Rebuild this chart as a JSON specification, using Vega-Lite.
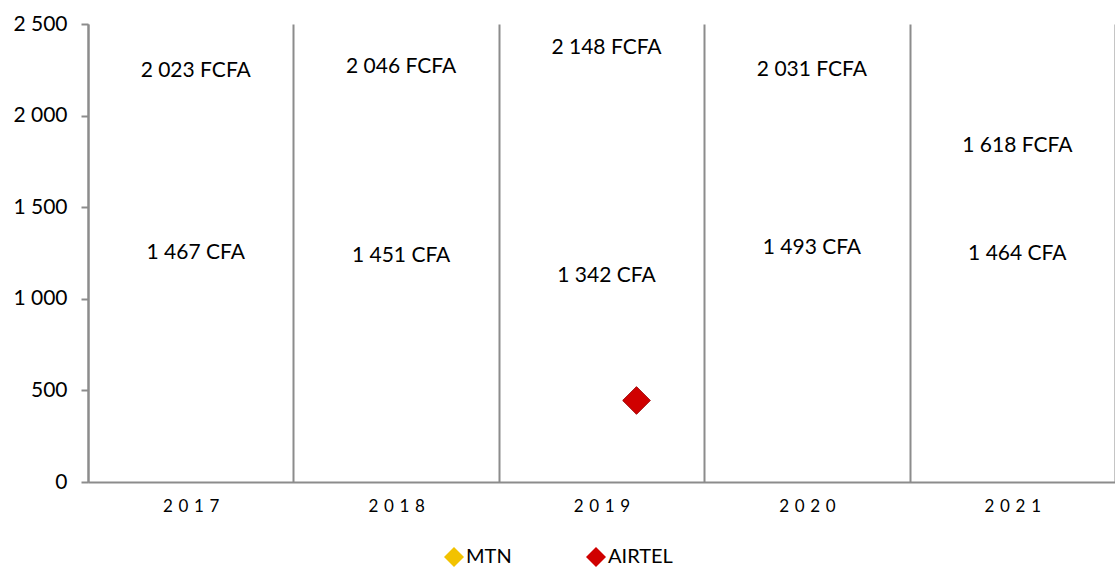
{
  "$schema": "https://vega.github.io/schema/vega-lite/v6.json",
  "autosize": "none",
  "width": 1027,
  "height": 458,
  "padding": {"left": 88, "top": 24, "right": 0, "bottom": 85},
  "background": "white",
  "config": {
    "font": "Lato",
    "view": {"stroke": null},
    "axis": {"labelFont": "Lato", "labelColor": "#000000", "domainColor": "#8c8c8c", "tickColor": "#8c8c8c", "gridColor": "#8c8c8c", "domainWidth": 2, "gridWidth": 2, "tickWidth": 2}
  },
  "datasets": {
    "labels": [
      {"year": "2017", "series": "MTN", "value": 2023, "label": "2 023 FCFA"},
      {"year": "2018", "series": "MTN", "value": 2046, "label": "2 046 FCFA"},
      {"year": "2019", "series": "MTN", "value": 2148, "label": "2 148 FCFA"},
      {"year": "2020", "series": "MTN", "value": 2031, "label": "2 031 FCFA"},
      {"year": "2021", "series": "MTN", "value": 1618, "label": "1 618 FCFA"},
      {"year": "2017", "series": "AIRTEL", "value": 1467, "label": "1 467 CFA"},
      {"year": "2018", "series": "AIRTEL", "value": 1451, "label": "1 451 CFA"},
      {"year": "2019", "series": "AIRTEL", "value": 1342, "label": "1 342 CFA"},
      {"year": "2020", "series": "AIRTEL", "value": 1493, "label": "1 493 CFA"},
      {"year": "2021", "series": "AIRTEL", "value": 1464, "label": "1 464 CFA"}
    ],
    "marker": [
      {"year": "2019", "series": "AIRTEL", "value": 445}
    ]
  },
  "layer": [
    {
      "data": {"name": "marker"},
      "mark": {"type": "point", "shape": "diamond", "filled": true, "opacity": 1, "size": 760, "xOffset": 35, "stroke": "#a00000", "strokeWidth": 1},
      "encoding": {
        "x": {"field": "year", "type": "ordinal", "scale": {"type": "band", "domain": ["2017", "2018", "2019", "2020", "2021"], "paddingInner": 0, "paddingOuter": 0},
          "axis": {"title": null, "ticks": false, "grid": true, "tickBand": "extent", "labelFontSize": 17, "labelPadding": 16, "labelAngle": 0, "labelExpr": "join(split(datum.label, ''), '\u2004')"}},
        "y": {"field": "value", "type": "quantitative", "scale": {"domain": [0, 2500], "nice": false},
          "axis": {"title": null, "values": [0, 500, 1000, 1500, 2000, 2500], "grid": false, "tickSize": 7, "labelFontSize": 21, "labelPadding": 14, "labelExpr": "replace(format(datum.value, ','), ',', ' ')"}},
        "fill": {"field": "series", "type": "nominal", "scale": {"domain": ["MTN", "AIRTEL"], "range": ["#f2c200", "#d00000"]},
          "legend": {"title": null, "orient": "none", "legendX": 356, "legendY": 523, "direction": "horizontal", "symbolType": "diamond", "symbolSize": 400, "symbolStrokeWidth": 0, "labelFontSize": 20, "labelFont": "Lato", "labelColor": "#000000", "columnPadding": 74, "labelOffset": 2}}
      }
    },
    {
      "data": {"name": "labels"},
      "transform": [{"filter": "datum.series == 'MTN'"}],
      "mark": {"type": "text", "fontSize": 21, "font": "Lato", "color": "#000000", "dy": -40, "dx": 5},
      "encoding": {
        "x": {"field": "year", "type": "ordinal"},
        "y": {"field": "value", "type": "quantitative"},
        "text": {"field": "label"}
      }
    },
    {
      "data": {"name": "labels"},
      "transform": [{"filter": "datum.series == 'AIRTEL'"}],
      "mark": {"type": "text", "fontSize": 21, "font": "Lato", "color": "#000000", "dy": 40, "dx": 5},
      "encoding": {
        "x": {"field": "year", "type": "ordinal"},
        "y": {"field": "value", "type": "quantitative"},
        "text": {"field": "label"}
      }
    }
  ]
}
